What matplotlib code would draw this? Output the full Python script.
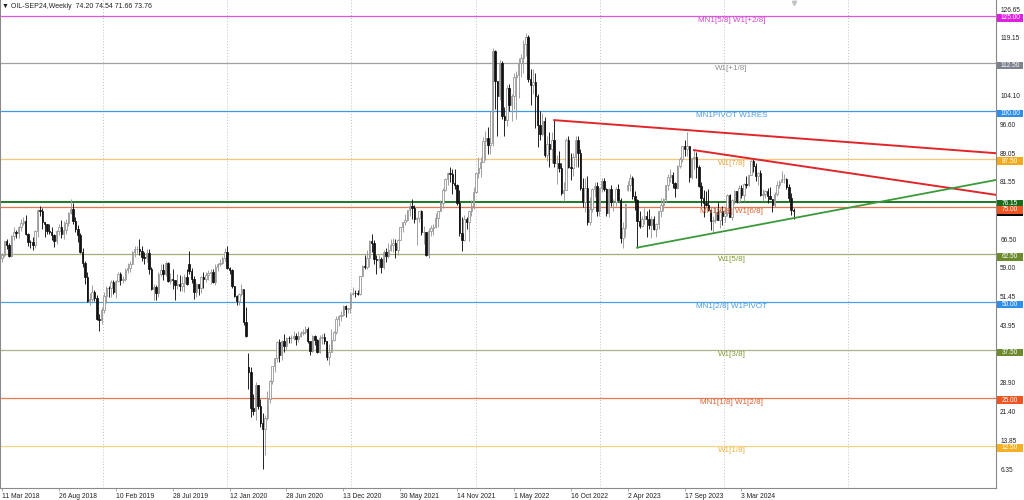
import numpy as np
import matplotlib
matplotlib.use("Agg")
import matplotlib.pyplot as plt
from matplotlib.patches import Rectangle
import matplotlib.transforms as mtransforms

plt.rcParams['font.family'] = ['Liberation Sans', 'DejaVu Sans']

# weekly bars of OIL-SEP24, first bar = week of 11 Mar 2018
close_2018 = [62.3, 65.9, 64.9, 62.1, 67.4, 68.4, 68.1, 69.7, 70.7, 71.3,
              67.9, 65.8, 65.7, 65.1, 68.6, 74.2, 73.8, 71.0, 70.5, 68.7,
              68.5, 67.6, 65.9, 68.7, 69.8, 67.8, 69.0, 70.8, 73.3, 74.3,
              71.3, 69.1, 67.6, 63.1, 60.2, 56.5, 50.4, 50.9, 52.6, 51.2,
              45.6, 45.3, 48.0]
high_2018 = [62.9, 66.0, 66.6, 65.5, 67.6, 69.6, 69.0, 70.0, 71.9, 72.3,
             72.8, 68.2, 66.4, 67.1, 69.0, 74.5, 75.3, 74.7, 71.1, 70.6,
             70.5, 69.8, 67.8, 69.0, 70.5, 71.4, 71.2, 71.9, 73.5, 76.9,
             75.9, 72.2, 70.1, 68.0, 64.1, 60.9, 58.0, 52.5, 54.5, 53.3,
             51.9, 46.8, 48.8]
low_2018 = [60.5, 61.9, 64.0, 61.8, 61.9, 66.4, 66.8, 66.9, 68.6, 70.2,
            67.6, 64.7, 64.2, 63.6, 64.3, 67.2, 72.5, 69.1, 67.0, 67.8,
            67.8, 66.2, 64.4, 65.2, 67.6, 66.9, 66.5, 67.8, 70.0, 73.1,
            70.6, 68.5, 65.7, 62.9, 59.3, 54.8, 50.2, 49.4, 50.1, 50.3,
            45.4, 42.4, 44.4]

close_2019 = [51.6, 53.8, 53.7, 55.3, 52.7, 55.6, 57.3, 55.8, 56.1, 58.5,
              59.0, 60.1, 63.1, 63.9, 64.0, 63.3, 61.9, 61.7, 62.8, 58.6,
              53.5, 54.0, 52.5, 57.4, 58.5, 57.5, 60.2, 55.6, 56.2, 55.7,
              54.5, 54.9, 54.2, 55.1, 56.5, 54.9, 58.1, 56.0, 52.8, 54.7,
              53.8, 56.7, 56.2, 57.2, 57.7, 57.8, 55.2, 59.2, 60.1, 60.4,
              61.7, 63.05]
high_2019 = [52.7, 54.3, 54.2, 55.8, 55.7, 55.8, 57.8, 57.9, 57.0, 58.9,
             60.4, 60.7, 63.3, 64.8, 64.6, 66.6, 64.8, 63.2, 63.9, 64.0,
             59.3, 54.8, 54.6, 58.0, 60.0, 60.0, 60.9, 60.5, 57.6, 58.8,
             55.9, 57.5, 57.1, 57.0, 57.5, 58.8, 63.4, 59.0, 56.8, 55.0,
             54.9, 56.9, 57.9, 58.0, 58.5, 58.7, 58.6, 59.9, 60.4, 61.2,
             62.2, 64.1]
low_2019 = [47.1, 49.8, 51.3, 51.3, 52.1, 51.2, 55.2, 54.5, 55.0, 55.6,
            57.7, 57.9, 60.1, 61.8, 63.0, 62.3, 60.7, 60.0, 60.5, 57.3,
            53.3, 50.6, 50.7, 51.3, 56.9, 55.7, 57.0, 55.3, 54.9, 53.6,
            50.5, 53.5, 52.9, 52.9, 52.8, 54.5, 57.3, 55.0, 50.9, 51.3,
            51.9, 52.3, 53.8, 55.4, 55.8, 54.9, 55.0, 54.5, 58.1, 59.5,
            60.1, 60.9]

close_2020 = [59.0, 58.5, 54.2, 51.6, 50.3, 52.05, 53.4, 44.8, 41.3, 31.7,
              22.4, 21.5, 28.3, 22.8, 18.3, 16.9, 19.8, 24.7, 29.4, 33.25,
              35.5, 39.6, 36.3, 39.75, 38.5, 40.65, 40.55, 40.6, 41.3, 40.3,
              41.2, 42.0, 42.3, 43.0, 39.8, 37.3, 41.1, 40.25, 37.05, 40.6,
              40.9, 39.85, 35.8, 37.1, 40.1, 42.2, 45.5, 46.3, 46.6, 49.1,
              48.2, 48.5]
high_2020 = [64.6, 59.3, 58.6, 54.3, 52.0, 52.4, 54.7, 53.3, 48.7, 36.6,
             33.0, 26.1, 29.1, 28.4, 24.7, 21.0, 20.5, 26.7, 29.6, 33.3,
             35.5, 39.9, 40.4, 40.0, 41.6, 40.8, 41.2, 41.4, 42.5, 42.0,
             42.6, 42.6, 43.1, 43.8, 43.5, 39.9, 41.4, 41.4, 40.5, 41.4,
             41.7, 41.9, 39.8, 39.0, 43.1, 42.4, 46.3, 46.7, 47.7, 49.4,
             49.4, 48.6]
low_2020 = [58.7, 57.4, 53.8, 51.3, 49.3, 49.4, 51.6, 44.0, 41.0, 27.3,
            20.1, 20.5, 19.3, 22.0, 17.3, 6.5, 10.1, 19.3, 23.7, 28.7,
            31.7, 34.4, 34.4, 34.8, 37.1, 37.6, 39.3, 39.3, 40.1, 38.7,
            39.7, 40.9, 41.5, 41.8, 39.3, 36.1, 36.9, 38.9, 36.6, 36.6,
            39.0, 39.2, 34.9, 33.6, 37.2, 39.9, 41.8, 43.9, 45.2, 46.3,
            46.2, 47.1]

close_2021 = [52.2, 52.4, 52.3, 52.2, 56.85, 59.5, 59.2, 61.5, 66.1, 65.6,
              61.4, 60.97, 61.45, 59.3, 63.1, 62.1, 63.6, 64.9, 65.4, 63.6,
              66.3, 69.6, 70.9, 71.6, 74.05, 75.2, 74.6, 71.8, 72.1, 73.95,
              68.3, 68.4, 62.3, 68.7, 69.3, 69.7, 71.97, 73.98, 75.9, 79.35,
              82.3, 83.8, 83.6, 81.3, 80.8, 75.9, 68.15, 66.3, 71.7, 70.9,
              73.8, 75.2]
high_2021 = [52.8, 53.9, 53.3, 53.2, 57.0, 59.8, 62.3, 63.8, 66.4, 67.98,
             66.4, 62.3, 62.3, 61.8, 63.6, 64.3, 65.5, 66.5, 66.7, 66.5,
             66.5, 69.8, 71.0, 72.99, 74.25, 76.2, 76.98, 75.5, 72.3, 74.0,
             74.2, 69.9, 68.4, 69.3, 70.1, 70.6, 73.4, 74.0, 76.7, 79.8,
             82.5, 84.1, 85.4, 84.9, 84.9, 81.0, 79.3, 72.3, 72.9, 72.4,
             74.0, 76.8]
low_2021 = [47.2, 51.8, 51.4, 51.8, 52.0, 56.8, 58.6, 58.8, 59.2, 63.1,
            60.0, 57.3, 58.9, 57.6, 58.8, 60.6, 61.7, 63.4, 63.2, 61.6,
            62.3, 66.5, 68.4, 70.2, 71.2, 72.6, 71.8, 70.8, 65.0, 71.0,
            67.6, 65.2, 62.0, 61.7, 67.3, 67.6, 69.4, 69.7, 73.8, 74.7,
            79.1, 80.7, 81.4, 78.3, 79.6, 75.5, 67.4, 63.5, 66.1, 69.2,
            66.1, 72.6]

close_2022 = [78.9, 83.8, 85.1, 86.8, 92.3, 93.1, 91.1, 91.6, 115.7, 108.0,
              104.0, 112.5, 98.8, 97.8, 106.0, 101.5, 104.0, 109.0, 109.5, 112.5,
              114.0, 117.5, 119.5, 108.5, 106.8, 107.5, 104.0, 96.5, 94.0, 97.5,
              88.5, 91.5, 90.0, 92.5, 86.5, 86.5, 85.0, 78.5, 79.5, 92.5,
              85.5, 85.0, 88.0, 92.5, 89.0, 80.0, 76.3, 80.0, 71.0, 74.3,
              79.6, 80.3]
high_2022 = [80.2, 84.0, 87.9, 88.0, 93.2, 94.9, 95.8, 100.0, 116.6, 116.0,
             108.0, 113.5, 113.0, 101.0, 106.8, 107.0, 104.5, 110.0, 110.5, 114.0,
             115.0, 118.5, 120.5, 120.0, 111.0, 111.0, 110.0, 104.5, 100.0, 99.5,
             98.5, 93.5, 94.5, 94.5, 97.7, 88.5, 89.5, 86.5, 81.5, 93.0,
             93.5, 89.0, 89.0, 93.5, 93.5, 90.0, 82.5, 82.5, 83.0, 77.5,
             80.0, 81.5]
low_2022 = [74.3, 78.5, 82.6, 82.7, 86.6, 87.2, 88.9, 88.9, 91.0, 100.5,
            93.5, 103.0, 98.0, 93.5, 96.0, 100.0, 97.5, 100.5, 98.0, 103.5,
            109.0, 110.0, 114.5, 107.5, 101.5, 104.5, 95.5, 90.5, 92.5, 93.5,
            88.0, 87.0, 85.5, 86.5, 85.5, 81.0, 84.0, 78.0, 76.5, 79.5,
            85.0, 82.0, 83.0, 85.5, 85.5, 79.5, 75.0, 73.5, 70.3, 70.2,
            73.5, 77.5]

close_2023 = [73.8, 79.9, 81.6, 79.7, 73.4, 79.7, 76.3, 76.3, 79.7, 76.7,
              66.7, 69.3, 75.7, 80.7, 82.5, 77.9, 76.8, 71.3, 70.0, 71.7,
              72.7, 71.7, 70.2, 71.8, 69.2, 70.6, 73.9, 75.4, 77.1, 80.6,
              82.8, 83.2, 81.25, 79.8, 85.55, 87.5, 90.8, 90.0, 90.8, 82.8,
              87.7, 88.1, 85.5, 80.5, 77.2, 75.9, 75.5, 74.1, 71.2, 71.4,
              73.6, 71.65, 73.8]
high_2023 = [81.5, 80.0, 82.6, 82.6, 79.9, 80.0, 80.6, 77.0, 80.1, 80.9,
             77.4, 70.9, 75.9, 81.8, 83.5, 83.0, 79.1, 77.0, 73.9, 72.7,
             74.7, 73.8, 74.4, 72.5, 72.7, 70.8, 74.0, 77.3, 77.4, 80.6,
             83.5, 84.9, 84.0, 81.5, 85.8, 88.1, 90.95, 92.4, 94.5, 91.0,
             87.8, 89.8, 89.3, 85.9, 81.5, 79.4, 79.0, 79.7, 74.3, 72.5,
             75.0, 76.2, 74.4]
low_2023 = [72.7, 72.5, 78.8, 79.1, 72.5, 72.3, 75.1, 73.8, 75.1, 76.4,
            65.6, 64.1, 67.0, 79.0, 79.2, 77.0, 74.2, 64.3, 69.4, 69.7,
            70.5, 67.0, 69.2, 66.9, 68.9, 67.0, 69.1, 72.2, 73.9, 76.3,
            79.3, 81.5, 79.8, 77.6, 79.6, 85.1, 86.6, 88.3, 88.3, 81.5,
            82.2, 84.9, 82.4, 80.1, 75.3, 72.4, 75.1, 73.8, 68.8, 68.0,
            70.8, 71.4, 69.3]

close_2024 = [72.7, 73.4, 78.0, 72.3, 76.8, 79.2, 76.5, 80.0, 78.0, 81.0,
              80.6, 83.2, 86.9, 85.7, 83.1, 83.85, 78.1, 78.3, 79.2, 77.7,
              77.0, 75.5, 78.45, 80.7, 81.5, 82.2, 82.2, 80.1, 77.2, 74.2,
              73.76]
high_2024 = [75.2, 74.7, 78.2, 78.4, 77.0, 79.3, 79.2, 80.6, 80.6, 81.3,
             83.1, 83.2, 87.1, 87.7, 86.4, 84.1, 84.5, 79.6, 79.4, 79.9,
             80.1, 77.0, 78.8, 81.7, 82.1, 84.4, 83.6, 82.6, 80.9, 78.6,
             74.54]
low_2024 = [70.1, 71.0, 72.6, 72.2, 71.4, 75.8, 75.9, 76.1, 77.4, 76.5,
            79.8, 80.3, 83.3, 84.2, 81.8, 80.6, 77.9, 76.6, 77.2, 76.0,
            76.9, 73.5, 74.8, 77.9, 79.9, 81.5, 81.1, 79.6, 76.5, 72.8,
            71.66]

first_open = 61.5
gap_opens = {79: 60.0, 104: 33.0, 264: 79.5}   # weeks that opened with a gap

date_labels = ["11 Mar 2018", "26 Aug 2018", "10 Feb 2019", "28 Jul 2019",
               "12 Jan 2020", "28 Jun 2020", "13 Dec 2020", "30 May 2021",
               "14 Nov 2021", "1 May 2022", "16 Oct 2022", "2 Apr 2023",
               "17 Sep 2023", "3 Mar 2024"]
bars_per_label = 24

price_ticks = [126.65, 119.15, 104.10, 96.60, 89.05, 81.55, 66.50, 59.00,
               51.45, 43.95, 28.90, 21.40, 13.85, 6.35]

# Murrey math levels: price, level colour, box colour, label text, label colour
levels = [
    (125.00, '#dd55dd', '#e020e0', 'MN1[5/8] W1[+2/8]', '#d048d0'),
    (112.50, '#a0a0a0', '#7d828c', 'W1[+1/8]', '#8c8c8c'),
    (100.00, '#3d98e6', '#2f8fe8', 'MN1PIVOT W1RES', '#4a9be2'),
    (87.50, '#f6c77a', '#f2aa1c', 'W1[7/8]', '#e8a53c'),
    (75.00, '#e8754a', '#ee5522', 'MN1[6/8] W1[6/8]', '#e0602e'),
    (62.50, '#a4ad74', '#6c8a2e', 'W1[5/8]', '#7f9a30'),
    (50.00, '#4aa0e8', '#2f8fe8', 'MN1[2/8] W1PIVOT', '#4a9be2'),
    (37.50, '#b0b38a', '#6c8a2e', 'W1[3/8]', '#7f9a30'),
    (25.00, '#e57a50', '#ee5522', 'MN1[1/8] W1[2/8]', '#e0602e'),
    (12.50, '#f8d27e', '#f5b025', 'W1[1/8]', '#f0b040'),
]
green_level = 76.15
last_price = 73.76

# trend lines: (bar index, price) anchor pairs
red_upper = ([233, 419.4], [97.65, 89.0])
red_lower = ([292, 419.4], [89.8, 78.1])
green_up = ([268, 419.4], [64.3, 82.0])

closes = np.array(close_2018 + close_2019 + close_2020 + close_2021 +
                  close_2022 + close_2023 + close_2024)
highs = np.array(high_2018 + high_2019 + high_2020 + high_2021 +
                 high_2022 + high_2023 + high_2024)
lows = np.array(low_2018 + low_2019 + low_2020 + low_2021 +
                low_2022 + low_2023 + low_2024)
opens = np.concatenate([[first_open], closes[:-1]])
for i, o in gap_opens.items():
    opens[i] = o
n = len(closes)
x = np.arange(n)

fig = plt.figure(figsize=(10.24, 5.0), dpi=100)
ax = fig.add_axes([0.0, 11.7 / 500, 996 / 1024, 488.3 / 500])
ax.set_xlim(-0.84, 419.4)
ax.set_ylim(1.33, 129.08)

# vertical dotted grid
for gx in np.arange(42.8, 400, 52.33):
    ax.axvline(gx, color='#c0c0c0', lw=0.7, ls=(0, (1, 2)), zorder=0)

# horizontal levels
for price, lc, bc, txt, tc in levels:
    ax.axhline(price, color=lc, lw=0.9, zorder=1)
    ax.annotate(txt, xy=(0.7345, price), xycoords=('axes fraction', 'data'),
                xytext=(0, -3.4), textcoords='offset points', ha='center',
                va='center', fontsize=5.8, color=tc, zorder=4)
ax.axhline(green_level, color='#1f7a1f', lw=1.4, zorder=1)

# candles
up = closes >= opens
wick_col = np.where(up, '#9a9a9a', '#111111')
ax.vlines(x, lows, highs, colors=wick_col, lw=0.65, zorder=2)
body_lo = np.minimum(opens, closes)
body_h = np.abs(closes - opens)
ax.bar(x[up], body_h[up], bottom=body_lo[up], width=0.62,
       color='white', edgecolor='#8e8e8e', linewidth=0.55, zorder=3)
ax.bar(x[~up], body_h[~up], bottom=body_lo[~up], width=0.62,
       color='#111111', edgecolor='#111111', linewidth=0.55, zorder=3)

# trend lines
ax.plot(*red_upper, color='#e0262a', lw=1.4, zorder=4)
ax.plot(*red_lower, color='#e0262a', lw=1.4, zorder=4)
ax.plot(*green_up, color='#3a9a3a', lw=1.3, zorder=4)

# price boxes on the right axis
trans = mtransforms.blended_transform_factory(ax.transAxes, ax.transData)
box_h = 1.95
def price_box(price, color, z, shift=0.6, show_text=True):
    yc = price - shift
    ax.add_patch(Rectangle((1.0007, yc - box_h / 2), 0.0267, box_h,
                           transform=trans, facecolor=color, edgecolor='none',
                           clip_on=False, zorder=z))
    if show_text:
        ax.text(1.0141, yc, f"{price:.2f}", transform=trans, ha='center',
                va='center', fontsize=4.7, color='white', clip_on=False,
                zorder=z + 0.1)

price_box(green_level, '#1b6b1b', 10, shift=0.25)
price_box(last_price, '#000000', 11, shift=0.3, show_text=False)
for price, lc, bc, txt, tc in levels:
    price_box(price, bc, 12, shift=0.85 if price == 75.0 else 0.6)

# axes styling
ax.spines['top'].set_visible(False)
for side in ['left', 'right', 'bottom']:
    ax.spines[side].set_color('#8a8a8a')
    ax.spines[side].set_linewidth(0.8)

ax.yaxis.tick_right()
ax.set_yticks(price_ticks)
ax.set_yticklabels([f"{v:.2f}" for v in price_ticks])
ax.tick_params(axis='y', length=0, pad=3, labelsize=4.7, labelcolor='#222222')

ax.set_xticks(np.arange(len(date_labels)) * bars_per_label)
ax.set_xticklabels(date_labels)
ax.tick_params(axis='x', length=2, width=0.5, color='#8a8a8a', pad=1.2,
               labelsize=4.9, labelcolor='#222222')
for lbl in ax.get_xticklabels():
    lbl.set_ha('left')

ax.text(0.002, 0.993, "\u25bc OIL-SEP24,Weekly  74.20 74.54 71.66 73.76",
        transform=ax.transAxes, ha='left', va='top', fontsize=5.0,
        color='#222222', zorder=20)
ax.plot([0.7975], [0.994], marker='v', markersize=3.2, color='#c4c4c4',
        transform=ax.transAxes, clip_on=False, zorder=20)

fig.savefig('out.png', dpi=100, facecolor='white')
